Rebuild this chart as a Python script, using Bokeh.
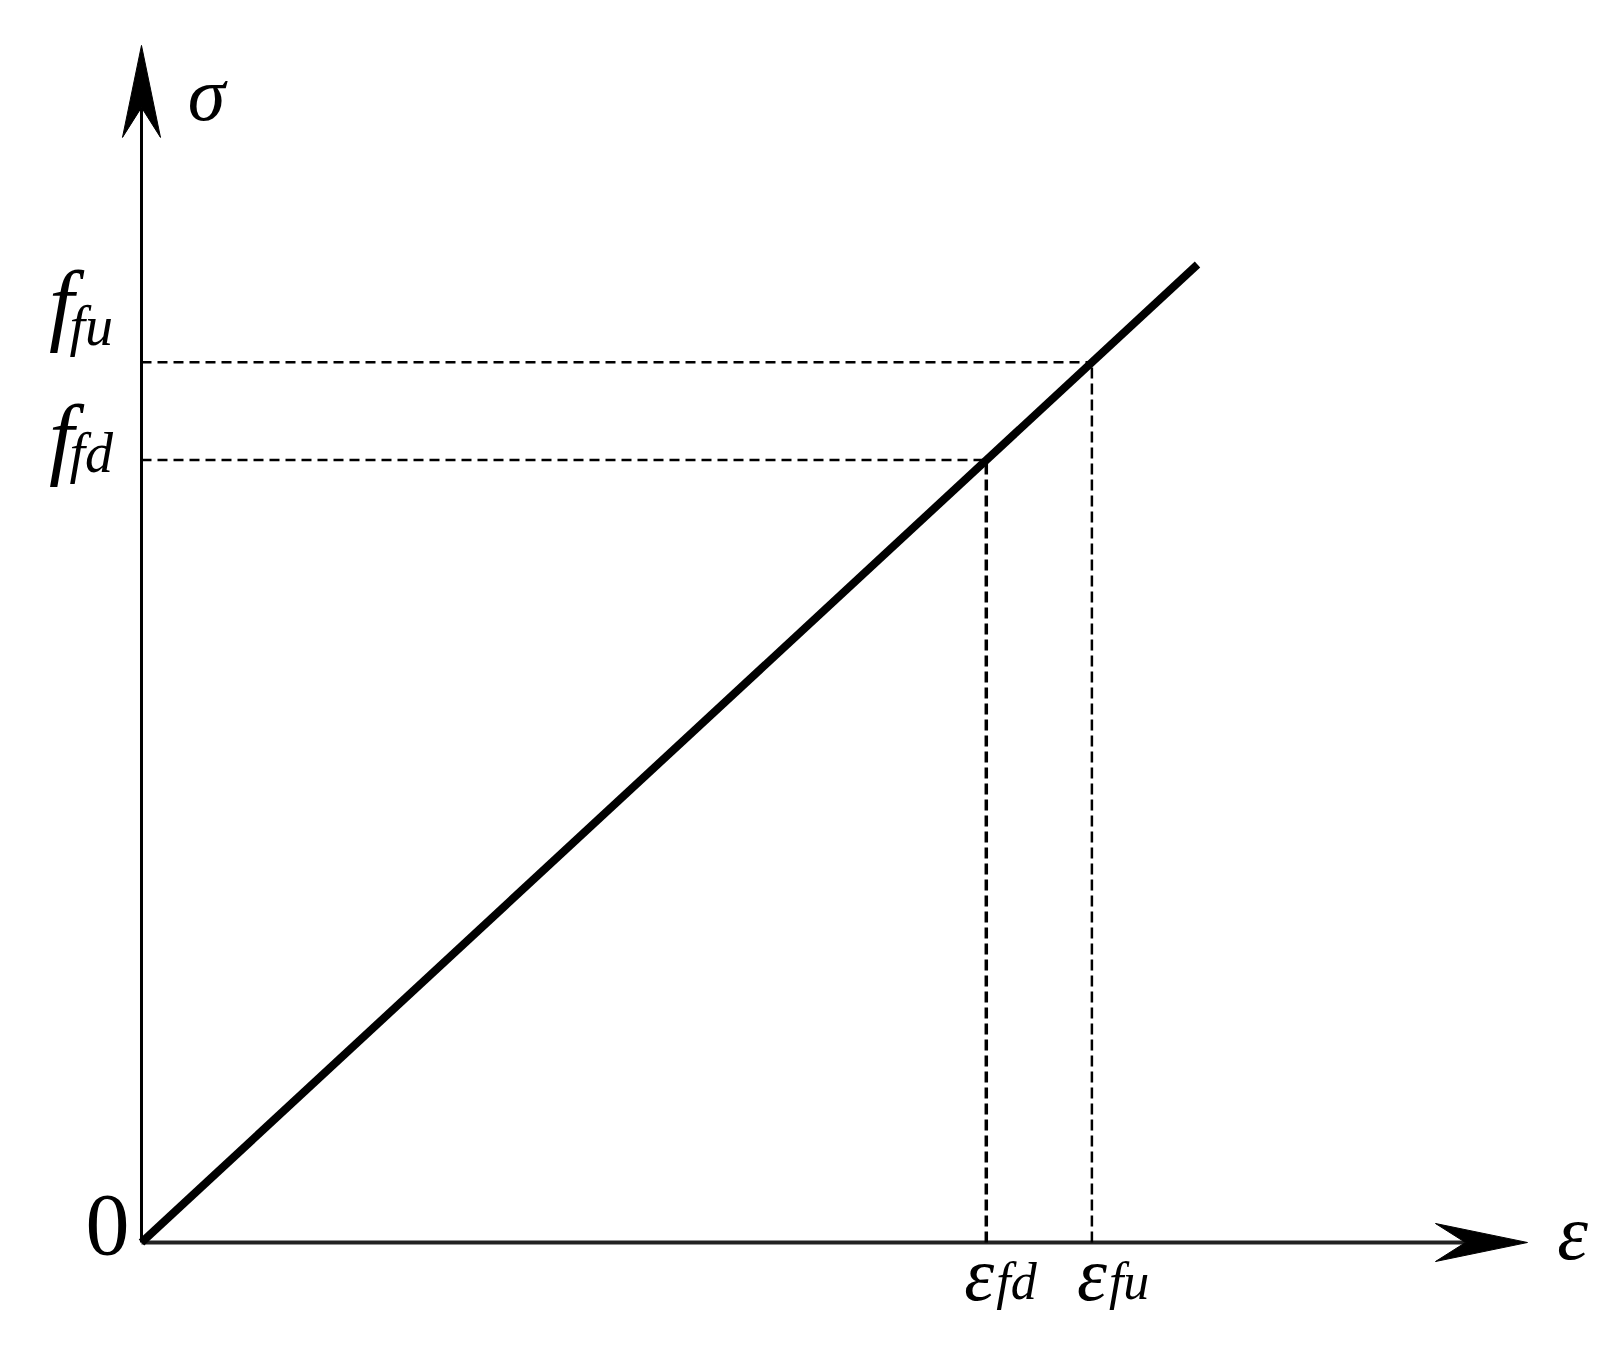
from bokeh.plotting import figure
from bokeh.models import Range1d
from bokeh.core.properties import value
from bokeh.embed import file_html
from bokeh.resources import INLINE

# ---- data (normalized linear-elastic stress-strain of FRP) ----
strain = [0.0, 1.0]          # ε
stress = [0.0, 1.0]          # σ
eps_marks = [0.8, 0.9]       # ε_fd, ε_fu
f_marks = [0.8, 0.9]         # f_fd, f_fu
eps_subs = ["fd", "fu"]
f_subs = ["fd", "fu"]
axis_tips = [1.3125, 1.224]  # arrow tips of ε-axis and σ-axis
x_axis_label = "ε"
y_axis_label = "σ"
origin_label = "0"

# ---- layout ----
W, H = 1597, 1332
x0, x1 = -0.13352, 1.37879
y0, y1 = -0.09202, 1.26994
sx = W / (x1 - x0)
sy = H / (y1 - y0)

SERIF = value("Liberation Serif")

p = figure(width=W, height=H, x_range=Range1d(x0, x1), y_range=Range1d(y0, y1),
           output_backend="svg", toolbar_location=None,
           x_axis_type=None, y_axis_type=None, min_border=0, title=None)
p.outline_line_color = None
p.background_fill_color = "white"

# arrow geometry (pixels)
A_LEN, A_NOTCH, A_HALF = 92, 62, 19

xt, yt = axis_tips
# axes lines
p.line([0, xt - A_NOTCH / sx], [0, 0], line_width=4, line_color="#222222")
p.line([0, 0], [0, yt - A_NOTCH / sy], line_width=3, line_color="black")
# arrow heads
p.patches(
    xs=[[xt, xt - A_LEN / sx, xt - A_NOTCH / sx, xt - A_LEN / sx],
        [0, -A_HALF / sx, 0, A_HALF / sx]],
    ys=[[0, A_HALF / sy, 0, -A_HALF / sy],
        [yt, yt - A_LEN / sy, yt - A_NOTCH / sy, yt - A_LEN / sy]],
    fill_color="black", line_color="black", line_width=1)

# dashed guide lines
p.segment(x0=[0] * len(f_marks), y0=f_marks, x1=eps_marks, y1=f_marks,
          line_width=2.5, line_color="black", line_dash="10 6")
p.segment(x0=eps_marks, y0=[0] * len(f_marks), x1=eps_marks, y1=f_marks,
          line_width=[3.5, 2.5], line_color="black", line_dash="11 5")

# main stress-strain line
p.line(strain, stress, line_width=8, line_color="black", line_cap="butt")

# axis names
p.text(x=[0], y=[yt], text=[y_axis_label], x_offset=65, y_offset=49,
       text_align="center", text_baseline="middle", text_font=SERIF,
       text_font_style="italic", text_font_size="76px", text_color="black")
p.text(x=[xt], y=[0], text=[x_axis_label], x_offset=45, y_offset=-10,
       text_align="center", text_baseline="middle", text_font=SERIF,
       text_font_style="italic", text_font_size="78px", text_color="black")
# origin
p.text(x=[0], y=[0], text=[origin_label], x_offset=-12, y_offset=-18,
       text_align="right", text_baseline="alphabetic", text_font=SERIF,
       text_font_size="88px", text_color="black")

# stress labels f_fd, f_fu
p.text(x=[0, 0], y=f_marks, text=["f", "f"], x_offset=-80, y_offset=[-23, -59],
       text_align="center", text_baseline="alphabetic", text_font=SERIF,
       text_font_style="italic", text_font_size="90px", text_color="black")
p.text(x=[0, 0], y=f_marks, text=f_subs, x_offset=-72, y_offset=[-7, -36],
       text_align="left", text_baseline="alphabetic", text_font=SERIF,
       text_font_style="italic", text_font_size="56px", text_color="black")

# strain labels ε_fd, ε_fu
p.text(x=eps_marks, y=[0, 0], text=["ε", "ε"], x_offset=[8, 15], y_offset=31,
       text_align="right", text_baseline="alphabetic", text_font=SERIF,
       text_font_style="italic", text_font_size="76px", text_color="black")
p.text(x=eps_marks, y=[0, 0], text=eps_subs, x_offset=[10, 17], y_offset=39,
       text_align="left", text_baseline="alphabetic", text_font=SERIF,
       text_font_style="italic", text_font_size="52px", text_color="black")

open("out.html", "w").write(file_html(p, INLINE))
